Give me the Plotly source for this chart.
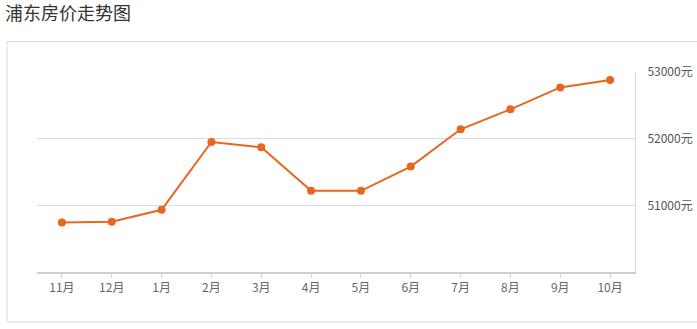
import plotly.graph_objects as go

months = ["11月", "12月", "1月", "2月", "3月", "4月", "5月", "6月", "7月", "8月", "9月", "10月"]
prices = [50743, 50753, 50933, 51950, 51871, 51217, 51217, 51581, 52141, 52440, 52769, 52879]
y_ticks = [51000, 52000, 53000]
y_tick_labels = ["51000元", "52000元", "53000元"]

W, H = 697, 329
L, R, T, B = 37, 62, 72, 57
pw = W - L - R
ph = H - T - B

def px2x(px):
    return (px - L) / pw

def px2y(py):
    return (H - B - py) / ph

orange = "#E8661E"
font = "Noto Sans CJK SC"

fig = go.Figure()
fig.add_trace(go.Scatter(
    x=months, y=prices, mode="lines+markers",
    line=dict(color=orange, width=2),
    marker=dict(color=orange, size=8),
    hoverinfo="x+y",
))

fig.update_layout(
    width=W, height=H,
    margin=dict(l=L, r=R, t=T, b=B, autoexpand=False),
    paper_bgcolor="white", plot_bgcolor="white",
    showlegend=False,
    font=dict(family=font, size=12, color="#666"),
    title=dict(text="浦东房价走势图", x=5 / W, xanchor="left", xref="container",
               y=1 - 14 / H, yanchor="middle", yref="container",
               font=dict(family=font, size=18, color="#333")),
    xaxis=dict(
        type="category", range=[-0.5, 11.5], automargin=False,
        showgrid=False, showline=True, linecolor="#cfcfcf", linewidth=2,
        ticks="outside", ticklen=4, tickcolor="#d5d5d5", tickwidth=1,
        tickfont=dict(family=font, size=12, color="#666"),
        zeroline=False, fixedrange=True,
    ),
    yaxis=dict(
        range=[50000, 53000], side="right", automargin=False,
        tickvals=y_ticks, ticktext=y_tick_labels,
        showgrid=True, gridcolor="#dcdcdc", gridwidth=1,
        showline=True, linecolor="#dcdcdc", linewidth=1,
        ticks="", ticklabelstandoff=9,
        tickfont=dict(family=font, size=12, color="#555"),
        zeroline=False, fixedrange=True,
    ),
    shapes=[
        dict(type="rect", xref="paper", yref="paper",
             x0=px2x(7), x1=px2x(700), y0=px2y(322), y1=px2y(41.5),
             line=dict(color="#dadada", width=1), fillcolor="rgba(0,0,0,0)", layer="below"),
    ],
)

fig.write_html("out.html")
